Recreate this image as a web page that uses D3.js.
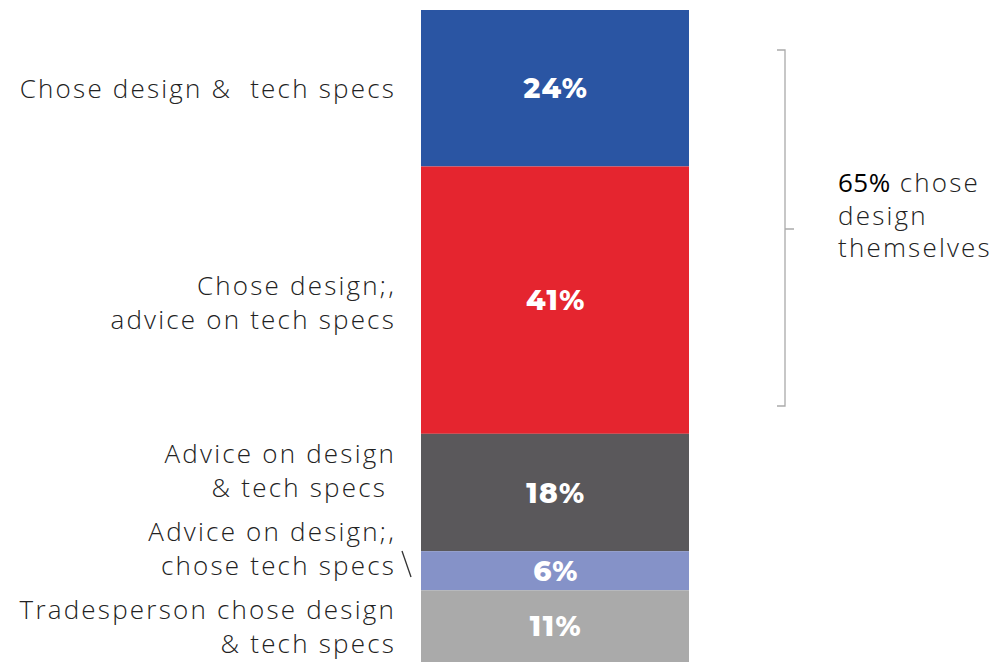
<!DOCTYPE html>
<html>
<head>
<meta charset="utf-8">
<script src="https://cdn.jsdelivr.net/npm/d3@7"></script>
<style>
  html, body { margin: 0; padding: 0; background: #fff; }
  svg { display: block; }
</style>
</head>
<body>
<svg id="chart" width="1000" height="663"></svg>
<script>
// Share of respondents by who chose the design and technical specs
const categories = [
  ["Chose design &  tech specs"],
  ["Chose design;,", "advice on tech specs"],
  ["Advice on design", "& tech specs "],
  ["Advice on design;,", "chose tech specs"],
  ["Tradesperson chose design", "& tech specs"]
];
const values = [24, 41, 18, 6, 11];
const colors = ["#2a55a3", "#e5252f", "#5a585b", "#8592c8", "#aaaaaa"];
const bracketLabel = ["65%", " chose", "design", "themselves"];

const svg = d3.select("#chart");
const font = "'Open Sans', sans-serif";
const spacing = "2.2px";

const y = d3.scaleLinear().domain([0, 100]).range([10, 662]);
const x = d3.scaleBand().domain(["all"]).range([421, 689]).padding(0);

// cumulative stacking from the top
const stacked = [];
let acc = 0;
values.forEach((v, i) => {
  stacked.push({ i, v, y0: acc, y1: acc + v });
  acc += v;
});

// bar segments
svg.append("g").selectAll("rect")
  .data(stacked)
  .join("rect")
  .attr("x", x("all"))
  .attr("width", x.bandwidth())
  .attr("y", d => y(d.y0))
  .attr("height", d => y(d.y1) - y(d.y0))
  .attr("fill", d => colors[d.i]);

// value labels inside segments
svg.append("g").selectAll("text")
  .data(stacked)
  .join("text")
  .attr("x", x("all") + x.bandwidth() / 2 + 1)
  .attr("y", d => (y(d.y0) + y(d.y1)) / 2)
  .attr("dy", "0.36em")
  .attr("text-anchor", "middle")
  .attr("fill", "#fff")
  .style("font-family", "Montserrat, 'Open Sans', sans-serif")
  .style("font-weight", 800)
  .style("font-size", "28px")
  .style("letter-spacing", "1.5px")
  .text(d => d.v + "%");

// category labels on the left (positions follow each segment's centre)
const labelCenters = [89, 303, 471, 549, 627];
const lineGap = 34;
const catG = svg.append("g")
  .style("font-family", font)
  .style("font-weight", 300)
  .style("font-size", "26px")
  .style("letter-spacing", spacing)
  .attr("fill", "#222");

categories.forEach((lines, i) => {
  const cy = labelCenters[i];
  const t = catG.append("text")
    .attr("x", 396)
    .attr("text-anchor", "end")
    .attr("xml:space", "preserve")
    .style("white-space", "pre");
  lines.forEach((ln, j) => {
    t.append("tspan")
      .attr("x", 396)
      .attr("y", cy + (j - (lines.length - 1) / 2) * lineGap)
      .attr("dy", "0.36em")
      .text(ln);
  });
});

// small connector mark for the narrow 6% segment
svg.append("line")
  .attr("x1", 402).attr("y1", 551)
  .attr("x2", 411).attr("y2", 577)
  .attr("stroke", "#333")
  .attr("stroke-width", 1.3);

// bracket grouping the first two segments
const bx = 785, bTop = 50, bBot = 406, bMid = 229;
const bracket = d3.path();
bracket.moveTo(bx - 8, bTop);
bracket.lineTo(bx, bTop);
bracket.lineTo(bx, bBot);
bracket.lineTo(bx - 8, bBot);
bracket.moveTo(bx, bMid);
bracket.lineTo(bx + 9, bMid);
svg.append("path")
  .attr("d", bracket.toString())
  .attr("fill", "none")
  .attr("stroke", "#aaa")
  .attr("stroke-width", 1.3);

// bracket annotation
const ann = svg.append("text")
  .attr("x", 838)
  .style("font-family", font)
  .style("font-size", "26px")
  .style("letter-spacing", spacing)
  .attr("fill", "#222")
  .style("font-weight", 300);
ann.append("tspan").attr("x", 838).attr("y", 183).attr("dy", "0.36em")
  .style("font-weight", 400).attr("fill", "#000").style("letter-spacing", "0.5px")
  .text(bracketLabel[0]);
ann.append("tspan").attr("y", 183).attr("dy", "0.36em").text(bracketLabel[1]);
ann.append("tspan").attr("x", 838).attr("y", 216).attr("dy", "0.36em").text(bracketLabel[2]);
ann.append("tspan").attr("x", 838).attr("y", 248).attr("dy", "0.36em").text(bracketLabel[3]);
</script>
</body>
</html>
